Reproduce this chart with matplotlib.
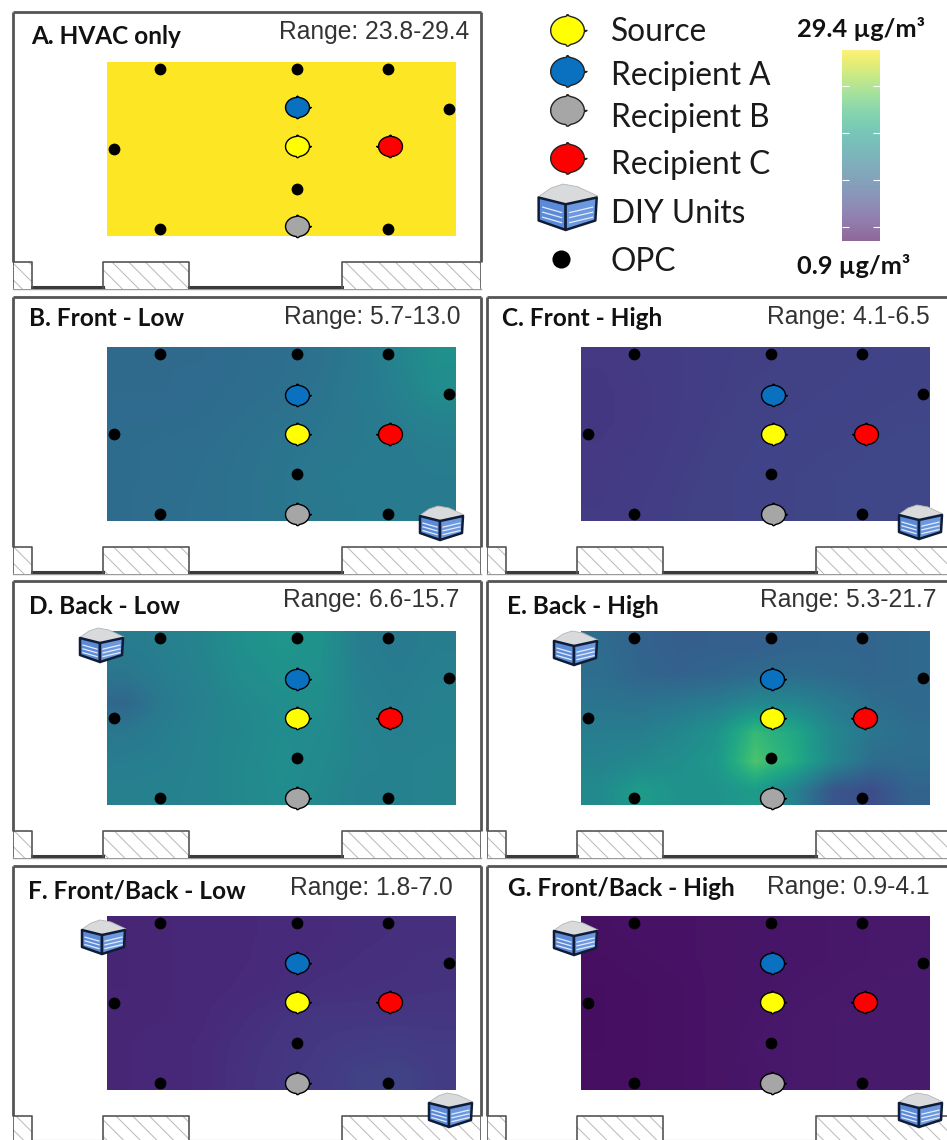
import numpy as np
import matplotlib
matplotlib.use("Agg")
import matplotlib.pyplot as plt
from matplotlib.path import Path
from matplotlib.patches import Rectangle, Polygon
from matplotlib.colors import Normalize
from matplotlib.cm import ScalarMappable

W, H = 947, 1140
plt.rcParams['hatch.linewidth'] = 0.7

# ---- data ----
panel_titles = ["A. HVAC only", "B. Front - Low", "C. Front - High", "D. Back - Low",
                "E. Back - High", "F. Front/Back - Low", "G. Front/Back - High"]
range_labels = ["Range: 23.8-29.4", "Range: 5.7-13.0", "Range: 4.1-6.5", "Range: 6.6-15.7",
                "Range: 5.3-21.7", "Range: 1.8-7.0", "Range: 0.9-4.1"]
vmin, vmax = 0.9, 29.4
colorbar_ticks = [3, 10, 17, 24]

heat_A = [[29.4] * 9] * 6
heat_B = [[10.8, 10.8, 10.8, 11.0, 11.2, 11.6, 12.4, 13.6, 15.2],
          [10.8, 10.8, 10.9, 11.1, 11.3, 11.8, 12.5, 13.4, 14.8],
          [10.9, 10.9, 11.0, 11.3, 11.6, 12.0, 12.4, 13.0, 13.6],
          [11.0, 11.1, 11.2, 11.5, 11.9, 12.2, 12.4, 12.7, 13.0],
          [11.0, 11.1, 11.3, 11.6, 12.0, 12.4, 12.6, 12.7, 12.8],
          [11.0, 11.2, 11.3, 11.6, 12.0, 12.3, 12.5, 12.6, 12.6]]
heat_C = [[5.6, 5.8, 6.0, 6.2, 6.3, 6.4, 6.5, 6.6, 6.7],
          [5.5, 5.7, 6.0, 6.2, 6.4, 6.5, 6.6, 6.7, 6.8],
          [5.5, 5.7, 6.0, 6.3, 6.5, 6.6, 6.7, 6.8, 6.9],
          [5.6, 5.8, 6.1, 6.4, 6.6, 6.7, 6.8, 6.9, 7.0],
          [5.7, 5.9, 6.2, 6.5, 6.7, 6.8, 6.9, 7.0, 7.0],
          [5.8, 6.0, 6.3, 6.5, 6.7, 6.8, 6.9, 7.0, 7.0]]
heat_D = [[12.8, 13.2, 13.8, 15.2, 15.8, 15.4, 13.0, 12.6, 13.0],
          [12.0, 13.0, 13.6, 14.8, 15.4, 15.2, 13.2, 12.8, 13.2],
          [10.4, 12.6, 13.4, 14.2, 15.0, 15.0, 13.4, 13.0, 13.4],
          [12.2, 13.0, 13.6, 14.0, 14.8, 14.6, 13.6, 13.2, 13.4],
          [13.0, 13.2, 13.6, 14.2, 15.0, 14.4, 13.6, 13.4, 13.6],
          [13.4, 13.4, 13.6, 14.2, 14.8, 14.2, 13.4, 13.4, 13.6]]
heat_E = [[11.0, 10.0, 9.5, 9.6, 9.6, 10.0, 10.2, 10.2, 10.6],
          [11.2, 10.2, 9.8, 10.2, 10.8, 11.0, 10.6, 10.2, 10.6],
          [11.8, 11.6, 12.2, 12.8, 14.2, 14.0, 12.6, 11.2, 10.6],
          [13.0, 13.0, 14.0, 15.5, 20.0, 18.0, 14.0, 12.0, 11.2],
          [13.6, 14.2, 15.0, 16.0, 21.4, 18.5, 14.0, 11.0, 11.0],
          [14.5, 16.5, 15.5, 15.5, 16.5, 13.5, 8.5, 7.6, 10.0]]
heat_F = [[3.9, 4.0, 4.1, 4.2, 4.3, 4.4, 4.6, 4.7, 4.8],
          [3.9, 4.0, 4.1, 4.2, 4.4, 4.5, 4.7, 4.8, 5.0],
          [3.9, 4.0, 4.1, 4.3, 4.5, 4.8, 4.9, 5.0, 5.1],
          [4.0, 4.0, 4.2, 4.6, 5.1, 5.4, 5.4, 5.4, 5.4],
          [4.0, 4.1, 4.3, 4.9, 5.3, 5.6, 5.9, 6.0, 5.8],
          [4.0, 4.1, 4.3, 5.0, 5.4, 5.8, 6.4, 6.6, 6.0]]
heat_G = [[2.2, 2.3, 2.3, 2.4, 2.5, 2.6, 2.7, 2.8, 2.9],
          [2.1, 2.2, 2.3, 2.4, 2.5, 2.6, 2.7, 2.8, 2.9],
          [2.0, 2.1, 2.2, 2.4, 2.5, 2.7, 2.8, 2.9, 3.0],
          [2.0, 2.1, 2.2, 2.4, 2.6, 2.8, 2.9, 3.0, 3.0],
          [2.0, 2.1, 2.2, 2.4, 2.7, 2.8, 2.9, 3.0, 3.0],
          [2.1, 2.1, 2.2, 2.4, 2.6, 2.8, 2.9, 3.0, 3.0]]
heats = [heat_A, heat_B, heat_C, heat_D, heat_E, heat_F, heat_G]

# room coordinates of the sensors (pixels within a room panel)
opc_x = [147, 284, 375, 436, 101, 284, 147, 375]
opc_y = [57, 57, 57, 97, 137, 177, 217, 217]
person_names = ["Source", "Recipient A", "Recipient B", "Recipient C"]
person_x = [284, 284, 284, 377]
person_y = [134, 95, 214, 134]
person_colors = ["#ffff00", "#0a70c0", "#a6a6a6", "#ff0000"]
legend_labels = ["Source", "Recipient A", "Recipient B", "Recipient C", "DIY Units", "OPC"]

# ---- layout (figure pixels) ----
origins = [(13, 12), (13, 297), (487, 297), (13, 581), (487, 581), (13, 866), (487, 866)]
person_shift_x = [0, 0, 1.5, 0, 1, 0, 1]
person_shift_y = [0, 3, 3, 3, 3, 2.5, 2.5]
title_pos = [(31, 37), (29, 319), (502, 319), (29, 606), (507, 606), (28, 891), (508, 888)]
range_right = [(469, 32), (460, 317), (930, 317), (459, 600), (936, 600), (453, 888), (930, 887)]
units = [[], [(441, 523)], [(920, 522)], [(101, 645)], [(575, 648)],
         [(103, 937), (450, 1110)], [(575, 938), (920, 1110)]]
PW, PH = 468, 277

fig = plt.figure(figsize=(W / 100, H / 100), dpi=100, facecolor="white")
norm = Normalize(vmin, vmax)
cmap = plt.get_cmap("viridis")


def person_path(mirror=False):
    t = np.linspace(0, 2 * np.pi, 60, endpoint=False)
    x, y = np.cos(t), 0.84 * np.sin(t)
    v = list(zip(x, y))
    v.insert(0, (1.16, 0.0))
    v[15] = (-0.04, 0.93)
    v[16] = (0.04, 0.93)
    v[46] = (-0.04, -0.93)
    v[47] = (0.04, -0.93)
    v = np.array(v + [v[0]])
    if mirror:
        v[:, 0] *= -1
    codes = [Path.MOVETO] + [Path.LINETO] * (len(v) - 2) + [Path.CLOSEPOLY]
    return Path(v, codes)


def draw_unit(ax, cx, cy, s=1.0, z=8):
    """DIY air-cleaner cube icon centred on (cx, cy)."""
    def P(pts):
        return [(cx + s * a, cy + s * b) for a, b in pts]
    ax.add_patch(Polygon(P([(-22, -7), (-12, -14), (-3, -17), (8, -15), (23, -8), (-1, -1)]),
                         fc="#d9dadc", ec="#b4b5b7", lw=0.6, zorder=z))
    ax.add_patch(Polygon(P([(-21, -7), (-1, -2), (-1, 17), (-21, 10)]),
                         fc="#5b8bd8", ec="#101c36", lw=1.8, zorder=z, joinstyle="round"))
    ax.add_patch(Polygon(P([(-1, -2), (22, -7), (21, 10), (-1, 17)]),
                         fc="#6b98de", ec="#101c36", lw=1.8, zorder=z, joinstyle="round"))
    for f in (0.3, 0.52, 0.74):
        ax.plot([cx + s * -18, cx + s * -4], [cy + s * (-5 + 17 * f), cy + s * (-1 + 17 * f)],
                color="#e4ecfb", lw=0.9, zorder=z + 1)
        ax.plot([cx + s * 2, cx + s * 19], [cy + s * (-1 + 17 * f), cy + s * (-5 + 17 * f)],
                color="#e4ecfb", lw=0.9, zorder=z + 1)


overlay = fig.add_axes([0, 0, 1, 1], zorder=5)
overlay.set_xlim(0, W)
overlay.set_ylim(H, 0)
overlay.axis("off")
overlay.patch.set_alpha(0)

for i, (ox, oy) in enumerate(origins):
    ax = fig.add_axes([ox / W, 1 - (oy + PH) / H, PW / W, PH / H], zorder=1)
    ax.set_xlim(0, PW)
    ax.set_ylim(PH, 0)
    ax.axis("off")
    ax.imshow(heats[i], cmap=cmap, norm=norm, extent=(94, 443, 224, 50),
              interpolation="bilinear", aspect="auto", zorder=1)
    ax.set_xlim(0, PW)
    ax.set_ylim(PH, 0)

    # room outline
    wall = dict(color="#555555", lw=2.0, solid_capstyle="butt", zorder=3, clip_on=False)
    ax.plot([0, PW], [0, 0], **wall)
    ax.plot([0, 0], [0, 250], **wall)
    ax.plot([PW, PW], [0, 250], **wall)
    for x0, x1 in ((19, 90), (176, 329)):
        ax.plot([x0, x1], [275, 275], color="#3a3a3a", lw=2.2, zorder=3)
    ax.plot([0, PW], [277, 277], color="#9a9a9a", lw=1.0, zorder=2, clip_on=False)
    for x0, x1 in ((0, 19), (90, 176), (329, PW)):
        ax.add_patch(Rectangle((x0, 250), x1 - x0, 27, fc="white", ec="#b8b8b8",
                               hatch="\\\\", lw=0, zorder=2))
        ax.plot([x0, x0, x1, x1], [276, 250, 250, 276], color="#555555", lw=1.2, zorder=3)

    # sensors
    ax.scatter(opc_x, opc_y, s=72, c="black", linewidths=0, zorder=5)
    for k in range(4):
        ax.scatter([person_x[k] + person_shift_x[i]], [person_y[k] + person_shift_y[i]],
                   s=400, marker=person_path(k == 3),
                   c=person_colors[k], edgecolors="black", linewidths=1.0, zorder=6,
                   joinstyle="round")

    overlay.text(title_pos[i][0], title_pos[i][1], panel_titles[i], family="Lato",
                 weight="bold", fontsize=17.6, color="#111111", ha="left", va="center")
    overlay.text(range_right[i][0], range_right[i][1], range_labels[i], family="Liberation Sans",
                 fontsize=17.7, color="#333333", ha="right", va="center")
    for cx, cy in units[i]:
        draw_unit(overlay, cx, cy, 1.0)

# legend
leg_x = [567, 567, 567, 567, 567, 561]
leg_y = [30, 71, 110, 158, 207, 259]
text_y = [32, 76, 118, 165, 214, 262]
for k in range(4):
    overlay.scatter([leg_x[k]], [leg_y[k]], s=790, marker=person_path(False),
                    c=person_colors[k], edgecolors="#222222", linewidths=1.0, zorder=6,
                    joinstyle="round")
draw_unit(overlay, leg_x[4], leg_y[4], 1.35)
overlay.scatter([leg_x[5]], [leg_y[5]], s=170, c="black", linewidths=0, zorder=6)
for k, lab in enumerate(legend_labels):
    overlay.text(611, text_y[k], lab, family="Lato", fontsize=22.8, color="#1a1a1a",
                 ha="left", va="center")

# colour bar
cax = fig.add_axes([842 / W, 1 - 241 / H, 38 / W, 191 / H], zorder=2)
cb = fig.colorbar(ScalarMappable(norm=norm, cmap=cmap), cax=cax, alpha=0.6, ticks=colorbar_ticks)
cb.outline.set_visible(False)
cax.tick_params(axis="y", direction="in", left=True, right=True, labelleft=False,
                labelright=False, color="white", length=5, width=0.8)
overlay.text(861, 29, "29.4 \u00b5g/m\u00b3", family="Lato", weight="bold", fontsize=18.3,
             color="#111111", ha="center", va="center")
overlay.text(854, 266, "0.9 \u00b5g/m\u00b3", family="Lato", weight="bold", fontsize=18.3,
             color="#111111", ha="center", va="center")

fig.savefig("out.png", dpi=100)
